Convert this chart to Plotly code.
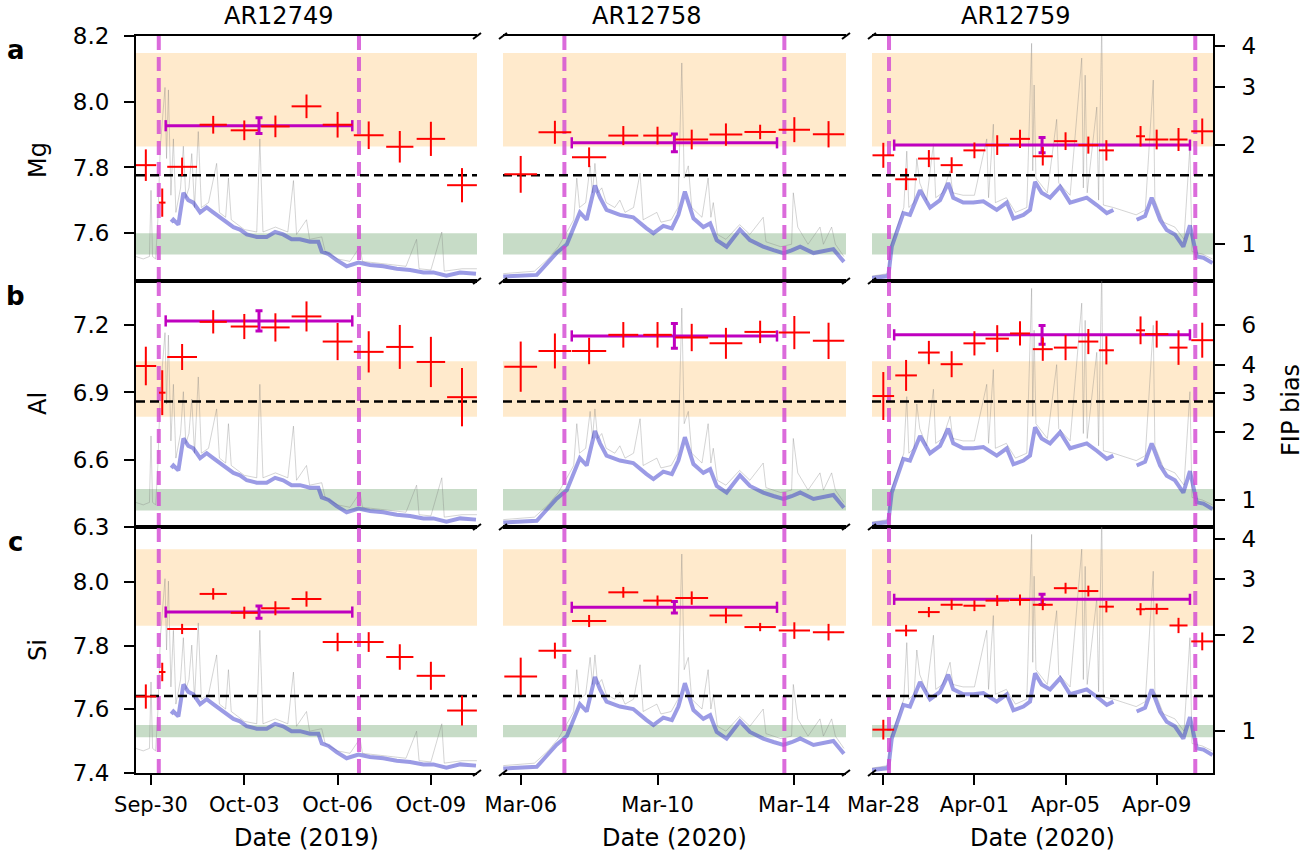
import pandas as pd
import plotly.graph_objects as go

# ---------------- data ----------------
regions = ["AR12749", "AR12758", "AR12759"]
date_titles = ["Date (2019)", "Date (2020)", "Date (2020)"]
elements = ["Mg", "Al", "Si"]
panel_letters = ["a", "b", "c"]

x_ranges = [["2019-09-29 12:25", "2019-10-10 11:35"],
            ["2020-03-05 11:35", "2020-03-15 12:15"],
            ["2020-03-27 12:05", "2020-04-11 11:20"]]
tick_starts = ["2019-09-30", "2020-03-06", "2020-03-28"]
tick_step_days = [3, 4, 4]

abund_ranges = [[7.4545, 8.2], [6.3, 7.397], [7.4, 8.172]]
abund_tick0 = [7.6, 6.3, 7.4]
abund_dtick = [0.2, 0.3, 0.2]
photospheric = [7.567, 6.422, 7.533]          # abundance where FIP bias = 1
fip_ticks = [[1, 2, 3, 4], [1, 2, 3, 4, 6], [1, 2, 3, 4]]
green_band = [[7.535, 7.60], [6.374, 6.47], [7.512, 7.551]]
orange_band = [[7.864, 8.148], [6.792, 7.039], [7.862, 8.102]]
ref_level = [7.776, 6.86, 7.642]

# ---- AR12749 ----
c1_time = ["2019-09-29 20:00", "2019-09-30 08:40", "2019-10-01 00:00", "2019-10-02 00:00",
           "2019-10-03 00:00", "2019-10-04 00:00", "2019-10-05 00:00", "2019-10-06 00:00",
           "2019-10-07 00:00", "2019-10-08 00:00", "2019-10-09 00:00", "2019-10-10 00:00"]
c1_halfwidth_h = [8, 2.5, 11.5, 10.5, 10.5, 11, 11.5, 11.5, 11.5, 10.5, 11, 11.5]
c1_mg = [7.807, 7.693, 7.802, 7.930, 7.913, 7.925, 7.986, 7.930, 7.898, 7.863, 7.887, 7.746]
c1_mg_err = [0.048, 0.043, 0.028, 0.027, 0.030, 0.033, 0.036, 0.039, 0.042, 0.048, 0.052, 0.052]
c1_al = [7.018, 6.899, 7.058, 7.215, 7.194, 7.190, 7.239, 7.127, 7.081, 7.103, 7.036, 6.879]
c1_al_err = [0.086, 0.100, 0.058, 0.052, 0.056, 0.063, 0.067, 0.083, 0.092, 0.098, 0.112, 0.130]
c1_si = [7.640, 7.717, 7.852, 7.962, 7.903, 7.917, 7.946, 7.811, 7.811, 7.764, 7.705, 7.596]
c1_si_err = [0.038, 0.029, 0.016, 0.018, 0.019, 0.022, 0.024, 0.029, 0.031, 0.040, 0.044, 0.047]
c1_mean_time = "2019-10-03 11:20"
c1_mean_halfwidth_h = 72
c1_mean = [7.927, 7.219, 7.905]
c1_mean_err = [0.024, 0.045, 0.019]
c1_vlines = ["2019-09-30 06:00", "2019-10-06 16:30"]

# ---- AR12758 ----
c2_time = ["2020-03-06 00:00", "2020-03-07 00:00", "2020-03-08 00:00", "2020-03-09 00:00",
           "2020-03-10 00:00", "2020-03-11 00:00", "2020-03-12 00:00", "2020-03-13 00:00",
           "2020-03-14 00:00", "2020-03-15 00:00"]
c2_halfwidth_h = [11.5, 11.5, 12, 10.5, 10, 11.5, 11.5, 11, 11, 11]
c2_mg = [7.779, 7.907, 7.831, 7.897, 7.897, 7.885, 7.900, 7.908, 7.915, 7.901]
c2_mg_err = [0.056, 0.035, 0.030, 0.029, 0.027, 0.030, 0.034, 0.022, 0.038, 0.040]
c2_al = [7.015, 7.085, 7.085, 7.157, 7.157, 7.145, 7.119, 7.170, 7.167, 7.130]
c2_al_err = [0.112, 0.078, 0.059, 0.057, 0.057, 0.061, 0.069, 0.050, 0.074, 0.081]
c2_si = [7.703, 7.784, 7.877, 7.967, 7.941, 7.949, 7.894, 7.858, 7.847, 7.842]
c2_si_err = [0.059, 0.025, 0.019, 0.017, 0.016, 0.021, 0.024, 0.013, 0.026, 0.026]
c2_mean_time = "2020-03-10 11:50"
c2_mean_halfwidth_h = 72
c2_mean = [7.875, 7.152, 7.920]
c2_mean_err = [0.027, 0.055, 0.018]
c2_vlines = ["2020-03-07 06:40", "2020-03-13 17:00"]

# ---- AR12759 ----
c3_time = ["2020-03-28 00:00", "2020-03-29 00:00", "2020-03-30 00:00", "2020-03-31 00:00",
           "2020-04-01 00:00", "2020-04-02 00:00", "2020-04-03 00:00", "2020-04-04 00:00",
           "2020-04-05 00:00", "2020-04-06 00:00", "2020-04-06 19:00", "2020-04-08 07:00",
           "2020-04-09 00:00", "2020-04-09 23:00", "2020-04-11 00:00"]
c3_halfwidth_h = [11.4, 11.4, 11.4, 11.6, 11.6, 12.3, 10.5, 10.5, 12.3, 10.5, 7.9, 4.7, 12.3, 9.5, 11.6]
c3_mg = [7.837, 7.764, 7.827, 7.807, 7.852, 7.868, 7.887, 7.834, 7.880, 7.868, 7.852, 7.895, 7.885, 7.885, 7.910]
c3_mg_err = [0.038, 0.033, 0.026, 0.024, 0.024, 0.030, 0.028, 0.028, 0.027, 0.026, 0.031, 0.031, 0.030, 0.035, 0.039]
c3_al = [6.884, 6.976, 7.078, 7.026, 7.119, 7.140, 7.163, 7.093, 7.100, 7.127, 7.088, 7.177, 7.160, 7.100, 7.133]
c3_al_err = [0.107, 0.069, 0.052, 0.058, 0.054, 0.060, 0.054, 0.052, 0.056, 0.056, 0.063, 0.062, 0.060, 0.077, 0.078]
c3_si = [7.536, 7.847, 7.905, 7.928, 7.925, 7.941, 7.943, 7.928, 7.980, 7.971, 7.922, 7.914, 7.915, 7.863, 7.813]
c3_si_err = [0.031, 0.018, 0.016, 0.016, 0.017, 0.017, 0.017, 0.017, 0.017, 0.017, 0.018, 0.019, 0.017, 0.024, 0.028]
c3_mean_time = "2020-04-03 23:15"
c3_mean_halfwidth_h = 155.8
c3_mean = [7.868, 7.157, 7.945]
c3_mean_err = [0.023, 0.042, 0.016]
c3_vlines = ["2020-03-28 06:00", "2020-04-10 16:40"]

# ---- light curves (days after first tick, normalised height) ----
c1_gray_days = [-0.49, -0.25, -0.05, 0.0, 0.05, 0.15, 0.22, 0.3, 0.45, 0.5, 0.56, 0.64, 0.72, 0.8, 0.95,
                1.04, 1.12, 1.22, 1.31, 1.4, 1.52, 1.62, 1.85, 2.11, 2.2, 2.4, 2.49, 2.58, 3.0, 3.4, 3.5,
                3.6, 4.0, 4.4, 4.58, 4.68, 5.0, 5.1, 5.49, 5.6, 6.0, 6.4, 6.72, 6.8, 7.5, 8.2, 8.54, 8.62,
                9.0, 9.35, 9.43, 10.0, 10.48]
c1_gray_val = [0.10, 0.09, 0.10, 0.37, 0.10, 0.09, 0.25, 0.55, 0.79, 0.50, 0.78, 0.35, 0.58, 0.28, 0.38,
               0.55, 0.34, 0.38, 0.52, 0.30, 0.61, 0.30, 0.32, 0.48, 0.28, 0.26, 0.42, 0.25, 0.21, 0.20, 0.58,
               0.20, 0.22, 0.20, 0.41, 0.19, 0.25, 0.17, 0.18, 0.12, 0.09, 0.08, 0.14, 0.08, 0.07, 0.06, 0.17, 0.05,
               0.045, 0.20, 0.04, 0.05, 0.05]
c1_blue_days = [0.65, 0.72, 0.88, 1.04, 1.2, 1.36, 1.58, 1.79, 2.0, 2.22, 2.43, 2.65, 2.86, 3.08, 3.4, 3.72,
                3.99, 4.25, 4.52, 4.79, 5.11, 5.38, 5.49, 5.71, 5.97, 6.29, 6.67, 7.04, 7.47, 7.9, 8.33,
                8.76, 9.08, 9.5, 9.94, 10.45]
c1_blue_val = [0.24, 0.25, 0.23, 0.36, 0.33, 0.32, 0.28, 0.30, 0.28, 0.26, 0.24, 0.22, 0.21, 0.19, 0.18, 0.18,
               0.20, 0.19, 0.17, 0.17, 0.16, 0.16, 0.12, 0.11, 0.085, 0.06, 0.075, 0.065, 0.06, 0.05, 0.045,
               0.035, 0.035, 0.022, 0.035, 0.03]

c2_gray_days = [-0.51, 0.4, 0.8, 1.1, 1.35, 1.55, 1.64, 1.72, 1.9, 2.03, 2.1, 2.17, 2.25, 2.37, 2.5, 2.75,
                2.9, 3.05, 3.3, 3.49, 3.58, 3.98, 4.1, 4.4, 4.6, 4.71, 4.78, 4.9, 5.0, 5.3, 5.48, 5.56,
                5.63, 5.75, 6.0, 6.4, 6.7, 7.09, 7.17, 7.6, 7.92, 7.97, 8.1, 8.4, 8.75, 8.85, 9.09, 9.2, 9.45]
c2_gray_val = [0.03, 0.04, 0.09, 0.14, 0.20, 0.25, 0.42, 0.30, 0.32, 0.47, 0.36, 0.48, 0.36, 0.38, 0.32, 0.30,
               0.33, 0.28, 0.30, 0.44, 0.25, 0.28, 0.24, 0.25, 0.30, 0.89, 0.42, 0.47, 0.30, 0.26, 0.42, 0.26,
               0.32, 0.19, 0.17, 0.23, 0.19, 0.26, 0.16, 0.14, 0.15, 0.36, 0.22, 0.15, 0.22, 0.15, 0.22, 0.15, 0.10]
c2_blue_days = [-0.51, -0.02, 0.47, 0.76, 1.05, 1.35, 1.54, 1.73, 1.93, 2.17, 2.32, 2.51, 2.9, 3.29, 3.68,
                3.88, 4.17, 4.42, 4.61, 4.8, 5.05, 5.34, 5.54, 5.73, 6.02, 6.41, 6.7, 7.09, 7.39, 7.68,
                7.92, 8.17, 8.56, 8.85, 9.14, 9.45]
c2_blue_val = [0.018, 0.02, 0.025, 0.07, 0.115, 0.15, 0.21, 0.28, 0.25, 0.39, 0.34, 0.29, 0.27, 0.26, 0.215,
               0.195, 0.225, 0.215, 0.27, 0.365, 0.256, 0.22, 0.235, 0.167, 0.14, 0.21, 0.167, 0.14, 0.126, 0.114,
               0.125, 0.14, 0.114, 0.12, 0.13, 0.078]

c3_gray_days = [-0.51, 0.2, 0.35, 0.6, 0.9, 1.03, 1.12, 1.35, 1.47, 1.6, 1.9, 2.2, 2.3, 2.6, 2.93, 3.05,
                3.5, 4.0, 4.54, 4.62, 4.83, 4.92, 5.4, 5.8, 6.3, 6.51, 6.56, 6.62, 6.7, 7.2, 7.61, 7.7, 8.2,
                8.71, 8.78, 8.86, 8.95, 9.37, 9.45, 9.59, 9.66, 10.1, 11.1, 11.5, 11.85, 11.92, 12.3, 12.8,
                13.2, 13.46, 13.55, 14.0, 14.45]
c3_gray_val = [0.02, 0.03, 0.15, 0.22, 0.30, 0.53, 0.30, 0.32, 0.50, 0.40, 0.33, 0.56, 0.34, 0.36, 0.45, 0.36,
               0.35, 0.35, 0.58, 0.34, 0.64, 0.32, 0.34, 0.28, 0.30, 0.97, 0.45, 0.80, 0.42, 0.36, 0.66, 0.40, 0.35,
               0.91, 0.38, 0.84, 0.36, 0.71, 0.33, 1.05, 0.31, 0.30, 0.27, 0.29, 0.82, 0.33, 0.24, 0.22,
               0.17, 0.55, 0.12, 0.11, 0.09]
c3_blue_days = [-0.51, 0.22, 0.37, 0.59, 0.88, 1.17, 1.61, 2.05, 2.49, 2.85, 3.07, 3.51, 3.95, 4.39, 4.98,
                5.42, 5.71, 6.15, 6.44, 6.66, 6.95, 7.32, 7.76, 8.2, 8.63, 8.93, 9.37, 9.81, 10.1, None,
                11.12, 11.49, 11.78, 12.15, 12.44, 12.8, 13.17, 13.46, 13.76, 14.05, 14.45]
c3_blue_val = [0.012, 0.02, 0.14, 0.195, 0.277, 0.27, 0.37, 0.30, 0.33, 0.40, 0.34, 0.32, 0.32, 0.325, 0.29,
               0.32, 0.255, 0.27, 0.29, 0.405, 0.36, 0.34, 0.385, 0.32, 0.33, 0.34, 0.31, 0.277, 0.29, None,
               0.25, 0.265, 0.34, 0.25, 0.208, 0.19, 0.14, 0.227, 0.10, 0.095, 0.073]

columns = [
    dict(time=c1_time, hw=c1_halfwidth_h, vals=[c1_mg, c1_al, c1_si], errs=[c1_mg_err, c1_al_err, c1_si_err],
         mt=c1_mean_time, mhw=c1_mean_halfwidth_h, mv=c1_mean, me=c1_mean_err, vl=c1_vlines,
         gd=c1_gray_days, gv=c1_gray_val, bd=c1_blue_days, bv=c1_blue_val),
    dict(time=c2_time, hw=c2_halfwidth_h, vals=[c2_mg, c2_al, c2_si], errs=[c2_mg_err, c2_al_err, c2_si_err],
         mt=c2_mean_time, mhw=c2_mean_halfwidth_h, mv=c2_mean, me=c2_mean_err, vl=c2_vlines,
         gd=c2_gray_days, gv=c2_gray_val, bd=c2_blue_days, bv=c2_blue_val),
    dict(time=c3_time, hw=c3_halfwidth_h, vals=[c3_mg, c3_al, c3_si], errs=[c3_mg_err, c3_al_err, c3_si_err],
         mt=c3_mean_time, mhw=c3_mean_halfwidth_h, mv=c3_mean, me=c3_mean_err, vl=c3_vlines,
         gd=c3_gray_days, gv=c3_gray_val, bd=c3_blue_days, bv=c3_blue_val),
]

# ---------------- layout geometry ----------------
W, H = 1315, 854
COL_PX = [(136, 477), (503, 846), (872, 1213)]
ROW_PX = [(36, 281), (281, 527), (527, 773)]
FONT = "DejaVu Sans"
RED = "#ff0000"
MAG = "#bf00bf"
VMAG = "rgba(210,70,210,0.8)"


def px(x):
    return x / W


def py(y):
    return 1 - y / H


def axname(prefix, n):
    return f"{prefix}axis" if n == 1 else f"{prefix}axis{n}"


def axref(prefix, n):
    return prefix if n == 1 else f"{prefix}{n}"


def ts(s):
    return pd.Timestamp(s)


def fmt(t):
    return t.strftime("%Y-%m-%d %H:%M:%S")


def to_dt(base, days):
    return [None if d is None else fmt(ts(base) + pd.Timedelta(days=d)) for d in days]


def hsegments(times, halfw_h, values):
    xs, ys = [], []
    for t, h, v in zip(times, halfw_h, values):
        xs += [fmt(ts(t) - pd.Timedelta(hours=h)), fmt(ts(t) + pd.Timedelta(hours=h)), None]
        ys += [v, v, None]
    return xs, ys


fig = go.Figure()
layout = dict(width=W, height=H, margin=dict(l=0, r=0, t=0, b=0, pad=0, autoexpand=False),
              plot_bgcolor="white", paper_bgcolor="white", showlegend=False,
              font=dict(family=FONT, color="black"))
shapes = []
annotations = []

for r in range(3):
    for c in range(3):
        p = r * 3 + c
        xn, yl, ya = p + 1, p + 1, 10 + p
        xr, ylr, yar = axref("x", xn), axref("y", yl), axref("y", ya)
        col = columns[c]
        bottom = (r == 2)
        layout[axname("x", xn)] = dict(
            domain=[px(COL_PX[c][0]), px(COL_PX[c][1])], anchor=ylr, type="date",
            range=x_ranges[c], showline=True, linecolor="black", linewidth=2, mirror=True,
            showgrid=False, zeroline=False, automargin=False,
            ticks="outside" if bottom else "", ticklen=10, tickwidth=2, tickcolor="black",
            showticklabels=bottom, tick0=tick_starts[c], dtick=tick_step_days[c] * 86400000,
            tickformat="%b-%d", tickfont=dict(size=21, family=FONT, color="black"),
            ticklabelstandoff=2)
        layout[axname("y", yl)] = dict(
            domain=[py(ROW_PX[r][1]), py(ROW_PX[r][0])], anchor=xr, range=[0, 1], visible=False,
            fixedrange=True, automargin=False)
        layout[axname("y", ya)] = dict(
            overlaying=ylr, anchor=xr, side="left", range=abund_ranges[r], automargin=False,
            showline=(c == 0), linecolor="black", linewidth=2, showgrid=False, zeroline=False,
            ticks="outside" if c == 0 else "", ticklen=10, tickwidth=2, tickcolor="black",
            showticklabels=(c == 0), tick0=abund_tick0[r], dtick=abund_dtick[r], tickformat=".1f",
            tickfont=dict(size=23, family=FONT, color="black"), ticklabelstandoff=10)
        yfr = None
        if c == 2:
            yf = 19 + r
            yfr = axref("y", yf)
            layout[axname("y", yf)] = dict(
                overlaying=ylr, anchor=xr, side="right", type="log", automargin=False,
                range=[abund_ranges[r][0] - photospheric[r], abund_ranges[r][1] - photospheric[r]],
                showline=True, linecolor="black", linewidth=2, showgrid=False, zeroline=False,
                ticks="outside", ticklen=10, tickwidth=2, tickcolor="black",
                tickvals=fip_ticks[r], ticktext=[str(v) for v in fip_ticks[r]],
                tickfont=dict(size=23, family=FONT, color="black"), ticklabelstandoff=12)

        # bands
        dref = f"{xr} domain"
        shapes.append(dict(type="rect", xref=dref, yref=yar, x0=0, x1=1,
                           y0=orange_band[r][0], y1=orange_band[r][1],
                           fillcolor="rgba(255,200,120,0.38)", line=dict(width=0), layer="below"))
        shapes.append(dict(type="rect", xref=dref, yref=yar, x0=0, x1=1,
                           y0=green_band[r][0], y1=green_band[r][1],
                           fillcolor="rgba(40,120,40,0.26)", line=dict(width=0), layer="below"))

        # light curve
        fig.add_trace(go.Scatter(x=to_dt(tick_starts[c], col["gd"]), y=col["gv"], xaxis=xr, yaxis=ylr,
                                 mode="lines", line=dict(color="rgba(120,120,120,0.32)", width=1),
                                 hoverinfo="skip"))
        fig.add_trace(go.Scatter(x=to_dt(tick_starts[c], col["bd"]), y=col["bv"], xaxis=xr, yaxis=ylr,
                                 mode="lines", line=dict(color="rgba(45,45,200,0.48)", width=4),
                                 connectgaps=False, hoverinfo="skip"))
        # vertical dashed boundaries
        vx, vy = [], []
        for t in col["vl"]:
            vx += [t, t, None]
            vy += [0, 1, None]
        fig.add_trace(go.Scatter(x=vx, y=vy, xaxis=xr, yaxis=ylr, mode="lines",
                                 line=dict(color=VMAG, width=4, dash="14px,7px"), hoverinfo="skip"))
        # reference level (drawn on the FIP-bias axis in the right-hand column, in FIP-bias units)
        if yfr is None:
            fig.add_trace(go.Scatter(x=x_ranges[c], y=[ref_level[r], ref_level[r]], xaxis=xr, yaxis=yar,
                                     mode="lines", line=dict(color="black", width=2.5, dash="9px,5px"),
                                     hoverinfo="skip"))
        else:
            fip_ref = 10 ** (ref_level[r] - photospheric[r])
            fig.add_trace(go.Scatter(x=x_ranges[c], y=[fip_ref, fip_ref], xaxis=xr, yaxis=yfr,
                                     mode="lines", line=dict(color="black", width=2.5, dash="9px,5px"),
                                     hoverinfo="skip"))
        # mean value: horizontal span with caps + vertical error bar
        mx, my = hsegments([col["mt"]], [col["mhw"]], [col["mv"][r]])
        fig.add_trace(go.Scatter(x=mx, y=my, xaxis=xr, yaxis=yar, mode="lines+markers",
                                 line=dict(color=MAG, width=3),
                                 marker=dict(symbol="line-ns", size=8, line=dict(color=MAG, width=2.5)),
                                 hoverinfo="skip"))
        fig.add_trace(go.Scatter(
            x=[col["mt"]], y=[col["mv"][r]], xaxis=xr, yaxis=yar, mode="markers",
            marker=dict(size=1, color=MAG),
            error_y=dict(type="data", array=[col["me"][r]], color=MAG, thickness=3, width=3.5)))
        # daily values: horizontal window + vertical error bar
        hx, hy = hsegments(col["time"], col["hw"], col["vals"][r])
        fig.add_trace(go.Scatter(x=hx, y=hy, xaxis=xr, yaxis=yar, mode="lines",
                                 line=dict(color=RED, width=2), hoverinfo="skip"))
        fig.add_trace(go.Scatter(
            x=col["time"], y=col["vals"][r], xaxis=xr, yaxis=yar, mode="markers",
            marker=dict(size=1, color=RED),
            error_y=dict(type="data", array=col["errs"][r], color=RED, thickness=2, width=0)))

# broken-axis marks
for xb in [477, 503, 846, 872]:
    for yb in [36, 281, 527, 773]:
        shapes.append(dict(type="line", xref="paper", yref="paper",
                           x0=px(xb - 4), y0=py(yb + 3), x1=px(xb + 4), y1=py(yb - 3),
                           line=dict(color="black", width=2)))

# texts
title_x = [278, 646, 1015]
date_x = [306, 674, 1042]
for c in range(3):
    annotations.append(dict(text=regions[c], x=px(title_x[c]), y=py(16), xref="paper", yref="paper",
                            showarrow=False, xanchor="center", yanchor="middle",
                            font=dict(size=24, family=FONT, color="black")))
    annotations.append(dict(text=date_titles[c], x=px(date_x[c]), y=py(838), xref="paper", yref="paper",
                            showarrow=False, xanchor="center", yanchor="middle",
                            font=dict(size=24, family=FONT, color="black")))
elem_y = [160, 404, 650]
letter_y = [50, 296, 542]
for r in range(3):
    annotations.append(dict(text=elements[r], x=px(38), y=py(elem_y[r]), xref="paper", yref="paper",
                            showarrow=False, textangle=-90, xanchor="center", yanchor="middle",
                            font=dict(size=24, family=FONT, color="black")))
    annotations.append(dict(text=f"<b>{panel_letters[r]}</b>", x=px(16), y=py(letter_y[r]), xref="paper",
                            yref="paper", showarrow=False, xanchor="center", yanchor="middle",
                            font=dict(size=26, family=FONT, color="black")))
annotations.append(dict(text="FIP bias", x=px(1291), y=py(410), xref="paper", yref="paper",
                        showarrow=False, textangle=-90, xanchor="center", yanchor="middle",
                        font=dict(size=24, family=FONT, color="black")))

layout["shapes"] = shapes
layout["annotations"] = annotations
fig.update_layout(**layout)
# remove the default page margin so the 1315x854 figure fills the window exactly
fig.write_html("out.html", config={"displayModeBar": False},
               post_script="document.body.style.margin='0';document.body.style.overflow='hidden';")
